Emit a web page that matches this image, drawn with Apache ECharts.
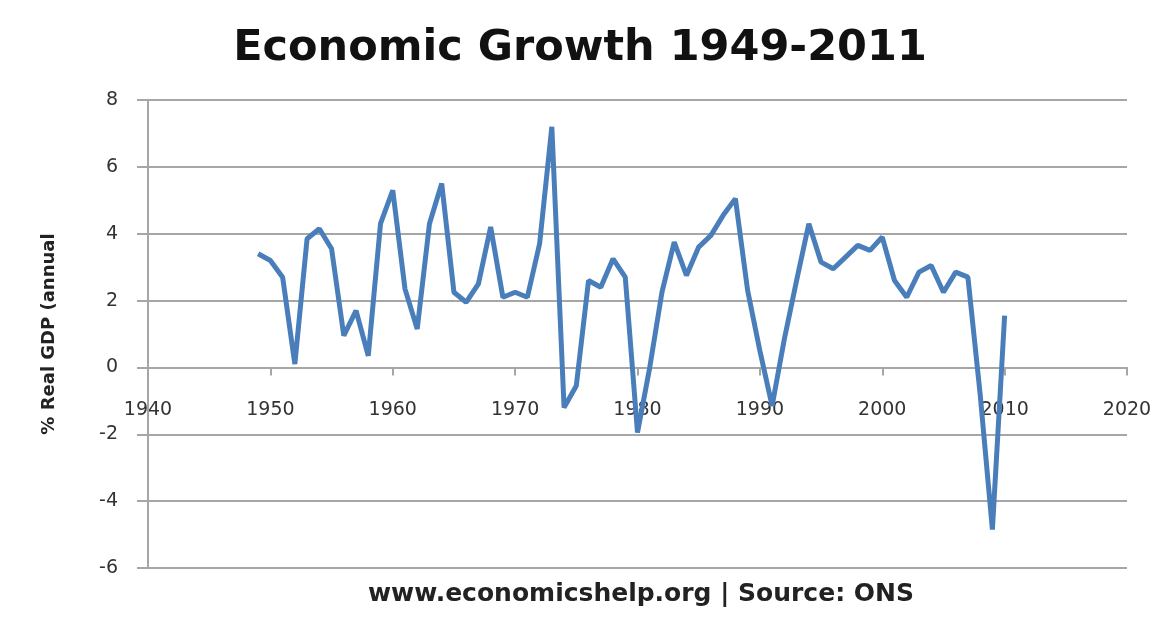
<!DOCTYPE html>
<html>
<head>
<meta charset="utf-8">
<script src="https://cdn.jsdelivr.net/npm/echarts@6/dist/echarts.min.js"></script>
<style>html,body{margin:0;padding:0;background:#fff;}#chart{width:1160px;height:623px;}</style>
</head>
<body>
<div id="chart"></div>
<script>
const titleText = 'Economic Growth 1949-2011';
const footerText = 'www.economicshelp.org | Source: ONS';
const yAxisName = '% Real GDP (annual';
const years = [1949,1950,1951,1952,1953,1954,1955,1956,1957,1958,1959,1960,1961,1962,1963,1964,1965,1966,1967,1968,1969,1970,1971,1972,1973,1974,1975,1976,1977,1978,1979,1980,1981,1982,1983,1984,1985,1986,1987,1988,1989,1990,1991,1992,1993,1994,1995,1996,1997,1998,1999,2000,2001,2002,2003,2004,2005,2006,2007,2008,2009,2010];
const growth = [3.4,3.2,2.7,0.1,3.85,4.15,3.55,0.95,1.7,0.35,4.3,5.3,2.35,1.15,4.3,5.5,2.25,1.95,2.5,4.2,2.1,2.25,2.1,3.7,7.2,-1.2,-0.55,2.6,2.4,3.25,2.7,-1.95,0.0,2.25,3.75,2.75,3.6,3.95,4.55,5.05,2.3,0.5,-1.15,0.85,2.6,4.3,3.15,2.95,3.3,3.65,3.5,3.9,2.6,2.1,2.85,3.05,2.25,2.85,2.7,-0.8,-4.85,1.55];

const chart = echarts.init(document.getElementById('chart'));
const bold = '"DejaVu Sans", sans-serif';
chart.setOption({
  backgroundColor: '#ffffff',
  animation: false,
  title: [
    {text: titleText, left: 'center', top: 22,
     textStyle: {fontFamily: bold, fontSize: 43, fontWeight: 'bold', color: '#111'}},
    {text: footerText, left: 636, textAlign: 'center', top: 577,
     textStyle: {fontFamily: bold, fontSize: 25, fontWeight: 'bold', color: '#222'}}
  ],
  grid: {left: 148, top: 100, width: 979, height: 468},
  xAxis: {
    type: 'value', min: 1940, max: 2020, interval: 10,
    axisLine: {onZero: true, lineStyle: {color: '#a6a6a6', width: 2}},
    axisTick: {show: true, inside: false, length: 8, lineStyle: {color: '#a6a6a6', width: 2}},
    axisLabel: {margin: -167, fontFamily: bold, fontSize: 19, color: '#333', formatter: v => String(v)},
    splitLine: {show: false}
  },
  yAxis: {
    type: 'value', min: -6, max: 8, interval: 2,
    name: yAxisName, nameLocation: 'middle', nameRotate: 90, nameGap: 90,
    nameTextStyle: {fontFamily: bold, fontSize: 18, fontWeight: 'bold', color: '#222'},
    axisLine: {show: true, lineStyle: {color: '#a6a6a6', width: 2}},
    axisTick: {show: true, length: 11, lineStyle: {color: '#a6a6a6', width: 2}},
    axisLabel: {margin: 30, fontFamily: bold, fontSize: 19, color: '#333'},
    splitLine: {show: true, lineStyle: {color: '#a6a6a6', width: 2}}
  },
  series: [{
    type: 'line',
    data: years.map((y, i) => [y, growth[i]]),
    showSymbol: false,
    lineStyle: {color: '#4a7ebb', width: 5},
    itemStyle: {color: '#4a7ebb'}
  }]
});
</script>
</body>
</html>
